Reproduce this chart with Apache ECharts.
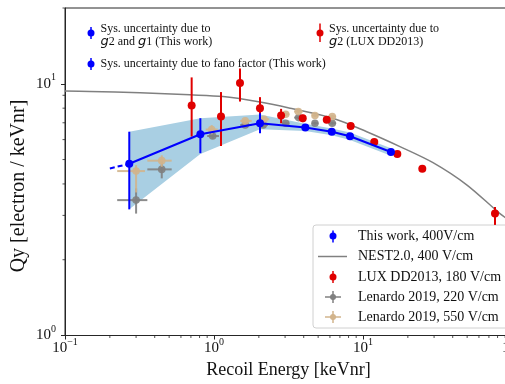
<!DOCTYPE html>
<html><head><meta charset="utf-8">
<script src="https://cdn.jsdelivr.net/npm/echarts@6/dist/echarts.min.js"></script>
<style>html,body{margin:0;padding:0;background:#fff}#c{width:505px;height:384px}</style>
</head><body><div id="c"></div>
<script>
// ---- tick values ----
const xMajorTicks = [0.1, 1, 10, 100];
const xMinorTicks = [0.2,0.3,0.4,0.5,0.6,0.7,0.8,0.9,2,3,4,5,6,7,8,9,20,30,40,50,60,70,80,90];
const yMajorTicks = [1, 10];
const yMinorTicks = [2,3,4,5,6,7,8,9,20];

// ---- This work, 400 V/cm ----
const blueE   = [0.27, 0.81, 2.035, 4.10, 6.17, 8.18, 15.4];
const blueQ   = [4.81, 6.30, 6.97, 6.70, 6.45, 6.19, 5.36];
const blueQlo = [3.17, 5.30, 6.36, null, null, null, null];
const blueQhi = [6.45, 7.30, 7.64, null, null, null, null];
const blueDashE = [0.20, 0.27];
const blueDashQ = [4.61, 4.81];
// systematic band
const bandE  = [0.27, 0.81, 2.035, 4.10, 6.17, 8.18, 15.4];
const bandUp = [6.45, 7.30, 7.55, 6.93, 6.65, 6.40, 5.55];
const bandLo = [3.17, 5.26, 6.60, 6.49, 6.25, 5.98, 5.18];

// ---- NEST2.0, 400 V/cm ----
const nestE = [0.1, 0.147, 0.319, 0.69, 1.149, 1.944, 3.24, 6.29, 10.6, 17.7, 29.5, 49.9, 83.0, 100];
const nestQ = [9.36, 9.32, 9.21, 9.04, 8.90, 8.50, 8.00, 7.30, 6.45, 5.63, 4.86, 3.96, 3.05, 2.82];

// ---- LUX DD2013, 180 V/cm ----
const luxE   = [0.708, 1.114, 1.494, 2.035, 2.82, 3.94, 5.71, 8.27, 11.9, 17.0, 25.0, 76.9];
const luxQ   = [8.20, 7.41, 10.06, 8.00, 7.48, 7.30, 7.19, 6.80, 5.87, 5.26, 4.60, 3.05];
const luxQlo = [6.17, 5.66, 8.50, 7.19, 6.97, 7.04, null, null, null, null, null, 2.75];
const luxQhi = [10.6, 9.27, 11.5, 8.85, 7.95, 7.53, null, null, null, null, null, 3.24];

// ---- Lenardo 2019, 220 V/cm ----
const len220E   = [0.30, 0.446, 0.98, 1.62, 2.14, 3.03, 3.70, 4.76, 6.22];
const len220Elo = [0.224, 0.357, 0.90, 1.50, 1.98, 2.88, 3.45, 4.55, 5.85];
const len220Ehi = [0.357, 0.52, 1.08, 1.79, 2.30, 3.20, 3.95, 5.00, 6.60];
const len220Q   = [3.45, 4.57, 6.20, 6.86, 6.86, 6.97, 7.34, 6.97, 6.97];
const len220Qlo = [3.05, 4.21, 6.05, 6.76, 6.76, 6.88, 7.24, 6.88, 6.88];
const len220Qhi = [3.84, 4.98, 6.38, 6.96, 6.96, 7.06, 7.44, 7.06, 7.06];

// ---- Lenardo 2019, 550 V/cm ----
const len550E   = [0.30, 0.446, 0.965, 1.62, 2.17, 3.03, 3.68, 4.76, 6.22];
const len550Elo = [0.224, 0.357, 0.88, 1.50, 2.00, 2.85, 3.45, 4.55, 5.85];
const len550Ehi = [0.344, 0.52, 1.06, 1.79, 2.35, 3.20, 3.95, 5.00, 6.60];
const len550Q   = [4.50, 4.95, 6.58, 7.12, 7.23, 7.57, 7.76, 7.48, 7.41];
const len550Qlo = [3.70, 4.68, 6.30, 7.00, 7.12, 7.46, 7.65, 7.38, 7.31];
const len550Qhi = [4.75, 5.20, 6.85, 7.24, 7.34, 7.68, 7.87, 7.58, 7.51];

const X_MIN = 0.1, X_MAX = 100, Y_MIN = 1, Y_MAX = 20;
const SERIF = 'Liberation Serif';
const AX = '#262626';
const TXT = '#111';
const BLUE = '#0000ff', RED = '#e00000', GRAY = '#808080', TAN = '#d2b48c', BAND = '#a9cfe3';

function rowsOf(E, Elo, Ehi, Q, Qlo, Qhi) {
  return E.map((e, i) => [e, Q[i], Elo ? Elo[i] : null, Ehi ? Ehi[i] : null, Qlo ? Qlo[i] : null, Qhi ? Qhi[i] : null]);
}
function ok(v) { return v != null && !isNaN(v) && v > 0; }
function errSeries(name, rows, color, o) {
  return {
    type: 'custom', name, data: rows, z: o.z, encode: {x: 0, y: 1},
    renderItem: (params, api) => {
      const x = api.value(0), y = api.value(1);
      const c = api.coord([x, y]);
      const ch = [];
      const ls = {stroke: color, lineWidth: o.lw, opacity: o.op};
      const xl = api.value(2), xh = api.value(3), yl = api.value(4), yh = api.value(5);
      if (ok(xl) && ok(xh)) {
        const a = api.coord([xl, y]), b = api.coord([xh, y]);
        ch.push({type: 'line', shape: {x1: a[0], y1: a[1], x2: b[0], y2: b[1]}, style: ls});
      }
      if (ok(yl) && ok(yh)) {
        const a = api.coord([x, yl]), b = api.coord([x, yh]);
        ch.push({type: 'line', shape: {x1: a[0], y1: a[1], x2: b[0], y2: b[1]}, style: ls});
      }
      if (o.r > 0) ch.push({type: 'circle', shape: {cx: c[0], cy: c[1], r: o.r}, style: {fill: color, opacity: o.op}});
      return {type: 'group', children: ch};
    }
  };
}

// minor ticks (outward) drawn through the axes' own scales
function minorTickSeries(values, dim) {
  return {
    type: 'custom', name: 'minor-' + dim, z: 10, clip: false, silent: true,
    data: values.map(v => dim === 'x' ? [v, Y_MIN] : [X_MIN, v]),
    encode: {x: 0, y: 1},
    renderItem: (params, api) => {
      const c = api.coord([api.value(0), api.value(1)]);
      const L = 2.5;
      const shape = dim === 'x'
        ? {x1: c[0], y1: c[1], x2: c[0], y2: c[1] + L}
        : {x1: c[0], y1: c[1], x2: c[0] - L, y2: c[1]};
      return {type: 'line', shape: shape, style: {stroke: AX, lineWidth: 0.8}};
    }
  };
}

function supFmt(v) {
  const e = Math.round(Math.log10(v));
  return '{b|10}{s|' + (e < 0 ? '\u2212' + (-e) : e) + '}';
}
const supRich = {
  b: {fontFamily: SERIF, fontSize: 15, color: TXT, lineHeight: 22},
  s: {fontFamily: SERIF, fontSize: 10, color: TXT, lineHeight: 8, verticalAlign: 'top'}
};

function legendText(x, y, t) {
  return {type: 'text', x: x, y: y, style: {text: t, fontFamily: SERIF, fontSize: 14, fill: TXT, verticalAlign: 'middle'}};
}
function vline(x, y1, y2, c) { return {type: 'line', shape: {x1: x, y1: y1, x2: x, y2: y2}, style: {stroke: c, lineWidth: 1.5}}; }
function hline(x1, x2, y, c) { return {type: 'line', shape: {x1: x1, y1: y, x2: x2, y2: y}, style: {stroke: c, lineWidth: 1.5}}; }
function dot(x, y, r, c) { return {type: 'circle', shape: {cx: x, cy: y, r: r}, style: {fill: c}}; }

const chart = echarts.init(document.getElementById('c'));
const option = {
  animation: false,
  grid: {left: 65, top: 8, width: 447, height: 327.5, show: true, borderColor: AX, borderWidth: 1,
         containLabel: false, outerBoundsMode: 'none'},
  xAxis: {type: 'log', logBase: 10, min: X_MIN, max: X_MAX, position: 'bottom',
     name: 'Recoil Energy [keVnr]', nameLocation: 'middle', nameGap: 24,
     nameTextStyle: {fontFamily: SERIF, fontSize: 18, color: TXT},
     axisLine: {onZero: false, lineStyle: {color: AX, width: 1}},
     axisTick: {customValues: xMajorTicks, length: 4, lineStyle: {color: AX}},
     axisLabel: {customValues: xMajorTicks, formatter: supFmt, rich: supRich, margin: 2},
     splitLine: {show: false}},
  yAxis: {type: 'log', logBase: 10, min: Y_MIN, max: Y_MAX, position: 'left',
     axisLine: {onZero: false, lineStyle: {color: AX, width: 1}},
     axisTick: {customValues: yMajorTicks, length: 4, lineStyle: {color: AX}},
     axisLabel: {customValues: yMajorTicks, formatter: supFmt, rich: supRich, margin: 9},
     splitLine: {show: false}},
  series: [
    {type: 'custom', name: 'band', z: 1, encode: {x: 0, y: 1},
     data: bandE.map((e, i) => [e, bandUp[i], bandLo[i]]),
     renderItem: (params, api) => {
       if (params.dataIndexInside !== 0) return null;
       const n = params.dataInsideLength;
       const up = [], lo = [];
       for (let i = 0; i < n; i++) {
         up.push(api.coord([api.value(0, i), api.value(1, i)]));
         lo.push(api.coord([api.value(0, i), api.value(2, i)]));
       }
       return {type: 'polygon', shape: {points: up.concat(lo.reverse())}, style: {fill: BAND}};
     }},
    {type: 'line', name: 'NEST2.0, 400 V/cm', z: 2, smooth: 0.3, symbol: 'none',
     data: nestE.map((e, i) => [e, nestQ[i]]),
     lineStyle: {color: GRAY, width: 1.5}},
    errSeries('Lenardo 2019, 220 V/cm', rowsOf(len220E, len220Elo, len220Ehi, len220Q, len220Qlo, len220Qhi), GRAY, {z: 3, lw: 2, op: 0.9, r: 3.8}),
    errSeries('Lenardo 2019, 550 V/cm', rowsOf(len550E, len550Elo, len550Ehi, len550Q, len550Qlo, len550Qhi), TAN, {z: 4, lw: 2, op: 0.9, r: 3.8}),
    errSeries('LUX DD2013, 180 V/cm', rowsOf(luxE, null, null, luxQ, luxQlo, luxQhi), RED, {z: 5, lw: 2, op: 1, r: 4}),
    errSeries('This work err', rowsOf(blueE, null, null, blueQ, blueQlo, blueQhi), BLUE, {z: 6, lw: 2, op: 1, r: 0}),
    {type: 'line', name: 'This work dash', z: 6, symbol: 'none',
     data: blueDashE.map((e, i) => [e, blueDashQ[i]]),
     lineStyle: {color: BLUE, width: 2, type: [5, 3]}},
    {type: 'line', name: 'This work, 400V/cm', z: 7, symbol: 'circle', symbolSize: 8,
     data: blueE.map((e, i) => [e, blueQ[i]]),
     lineStyle: {color: BLUE, width: 2}, itemStyle: {color: BLUE}},
    minorTickSeries(xMinorTicks, 'x'),
    minorTickSeries(yMinorTicks, 'y')
  ],
  graphic: [
    // y-axis title
    {type: 'text', x: 19, y: 186, rotation: Math.PI / 2,
     style: {text: 'Qy [electron / keVnr]', fontFamily: SERIF, fontSize: 20, fill: TXT, align: 'center', verticalAlign: 'middle'}},
    // upper legend
    {type: 'group', z: 60, children: [
      vline(91, 27, 39, BLUE), dot(91, 33, 3.5, BLUE),
      {type: 'text', x: 100.5, y: 22.5, style: {
        text: 'Sys. uncertainty due to\n{g|g}2 and {g|g}1 (This work)', fontFamily: SERIF, fontSize: 12, lineHeight: 13, fill: TXT,
        rich: {g: {fontFamily: 'DejaVu Sans', fontStyle: 'italic', fontSize: 13, lineHeight: 13, fill: TXT}}}},
      vline(320, 23.5, 42, RED), dot(320, 33, 3.5, RED),
      {type: 'text', x: 329, y: 22.5, style: {
        text: 'Sys. uncertainty due to\n{g|g}2 (LUX DD2013)', fontFamily: SERIF, fontSize: 12, lineHeight: 13, fill: TXT,
        rich: {g: {fontFamily: 'DejaVu Sans', fontStyle: 'italic', fontSize: 13, lineHeight: 13, fill: TXT}}}},
      vline(91, 58, 70, BLUE), dot(91, 64, 3.5, BLUE),
      {type: 'text', x: 100.5, y: 64, style: {
        text: 'Sys. uncertainty due to fano factor (This work)', fontFamily: SERIF, fontSize: 12, fill: TXT, verticalAlign: 'middle'}}
    ]},
    // lower-right legend (box first, then entries on top)
    {type: 'group', z: 60, children: [
      {type: 'rect', shape: {x: 313, y: 225, width: 200, height: 103, r: 3},
       style: {fill: 'rgba(255,255,255,0.85)', stroke: '#d0d0d0', lineWidth: 1}},
      vline(333, 230.5, 242.5, BLUE), dot(333, 236, 3.5, BLUE),
      hline(318, 347, 256.5, GRAY),
      vline(333, 271, 283, RED), dot(333, 277, 3.5, RED),
      hline(325, 341, 297, GRAY), vline(333, 291, 303, GRAY), dot(333, 297, 3, GRAY),
      hline(325, 341, 317, TAN), vline(333, 311, 323, TAN), dot(333, 317, 3, TAN),
      legendText(358, 236, 'This work, 400V/cm'),
      legendText(358, 256, 'NEST2.0, 400 V/cm'),
      legendText(358, 277, 'LUX DD2013, 180 V/cm'),
      legendText(358, 297, 'Lenardo 2019, 220 V/cm'),
      legendText(358, 317, 'Lenardo 2019, 550 V/cm')
    ]}
  ]
};
chart.setOption(option);
</script>
</body></html>
